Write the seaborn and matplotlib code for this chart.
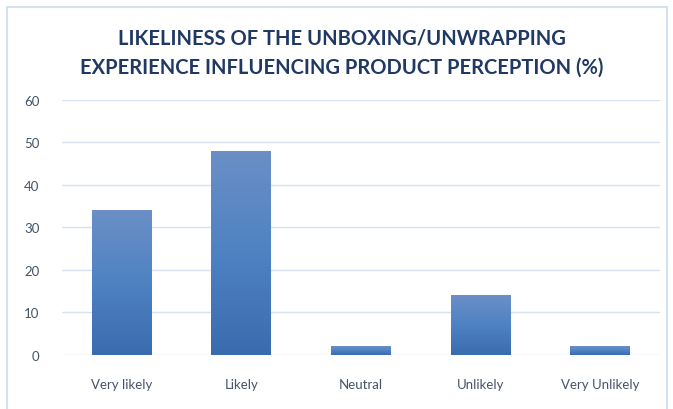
import numpy as np
import pandas as pd
import seaborn as sns
import matplotlib.pyplot as plt
from matplotlib.patches import Rectangle
from matplotlib.colors import LinearSegmentedColormap

# data
categories = ["Very likely", "Likely", "Neutral", "Unlikely", "Very Unlikely"]
percent = [34, 48, 2, 14, 2]

df = pd.DataFrame({"response": categories, "percent": percent})

sns.set_theme(style="white")
plt.rcParams['font.family'] = ['Lato', 'DejaVu Sans']

fig = plt.figure(figsize=(6.73, 4.10), dpi=100)
ax = fig.add_axes([0.092, 0.132, 0.889, 0.622])

sns.barplot(data=df, x="response", y="percent", color="#4A7BBE", width=0.5, ax=ax)

# gradient fill: lighter at the top, darker at the bottom
cmap = LinearSegmentedColormap.from_list("bar", ["#3A6BAE", "#4F82C2", "#6B8FC6"])
grad = np.linspace(0, 1, 256).reshape(-1, 1)
for bar in ax.patches:
    x0, y0 = bar.get_x(), bar.get_y()
    w, h = bar.get_width(), bar.get_height()
    bar.set_facecolor("none")
    bar.set_edgecolor("none")
    im = ax.imshow(grad, cmap=cmap, origin="lower", aspect="auto",
                   extent=[x0, x0 + w, y0, y0 + h], zorder=2)
    im.set_clip_path(bar)

ax.set_xlim(-0.5, 4.5)
ax.set_ylim(0, 60)
ax.set_yticks(range(0, 61, 10))
ax.yaxis.grid(True, color="#D6E2F2", linewidth=1)
ax.set_axisbelow(True)
for s in ax.spines.values():
    s.set_visible(False)
ax.tick_params(axis="both", length=0)
ax.tick_params(axis="y", pad=16, labelsize=9.5, labelcolor="#44546A")
ax.tick_params(axis="x", pad=17, labelsize=9.5, labelcolor="#44546A")
ax.set_xlabel("")
ax.set_ylabel("")

fig.text(0.508, 0.87, "LIKELINESS OF THE UNBOXING/UNWRAPPING\nEXPERIENCE INFLUENCING PRODUCT PERCEPTION (%)",
         ha="center", va="center", fontsize=14.5, fontweight="bold",
         color="#1F3864", linespacing=1.55)

# chart-area border
fig.patches.append(Rectangle((0.011, -0.05), 0.98, 1.03, transform=fig.transFigure,
                             fill=False, edgecolor="#C9DDF0", linewidth=1.2))

fig.savefig("out.png", dpi=100)
